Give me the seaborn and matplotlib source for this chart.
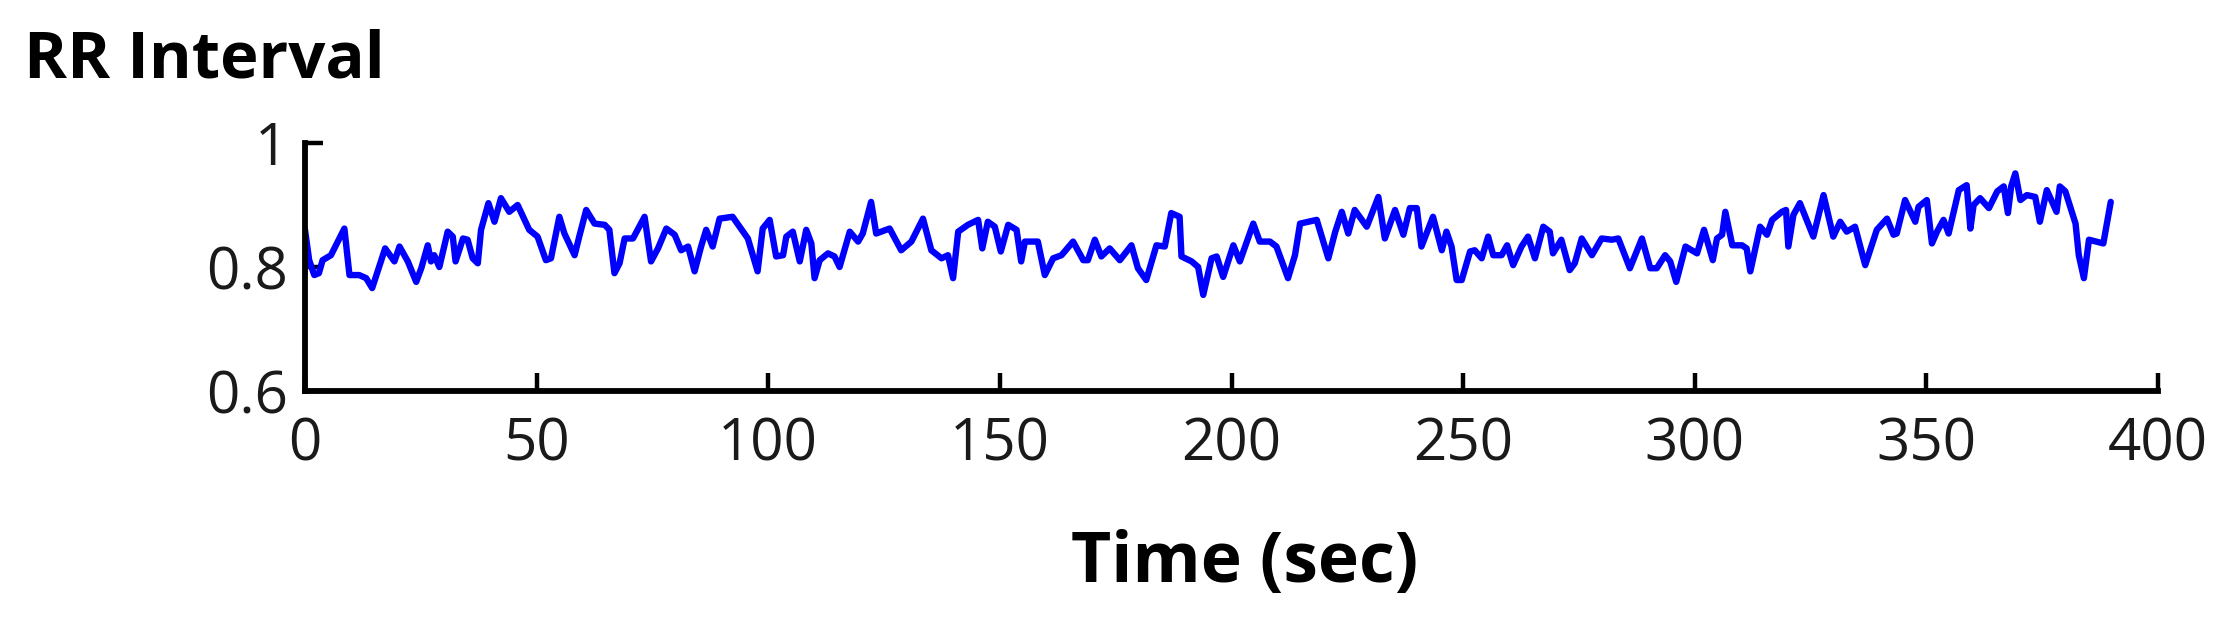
import numpy as np
import pandas as pd
import matplotlib
matplotlib.use("Agg")
import matplotlib.pyplot as plt
import seaborn as sns

# RR interval series (time in sec, interval in sec)
time_sec = [
    0, 0.9, 2.0, 3.0, 3.8, 5.6, 8.5, 9.6, 11.7, 13.2, 14.5, 17.3, 19.3, 20.4, 22.2,
    24.0, 25.1, 26.5, 27.2, 27.9, 29.0, 30.8, 31.9, 32.5, 34.1, 35.1, 36.2, 37.3,
    38.0, 39.6, 40.9, 42.3, 44.1, 45.9, 48.4, 50.2, 52.0, 53.1, 54.9,
    56.0, 58.2, 59.2, 60.7, 62.5, 64.7, 65.7, 66.8, 67.9, 69.0, 70.8, 73.3, 74.7,
    76.2, 78.0, 79.8, 81.2, 82.7, 84.1, 85.5, 86.6, 88.0, 89.5, 92.3, 95.6, 97.7,
    98.8, 100.3, 101.7, 103.2, 103.9, 105.3, 106.8, 108.2, 109.3, 110.0, 111.1,
    112.9, 114.3, 115.4, 117.6, 119.4, 120.4, 122.2, 123.3, 126.2, 128.7, 130.9,
    133.4, 135.2, 137.4, 138.8, 139.9, 141.0, 143.1, 145.3, 146.2, 147.4, 148.9,
    150.2, 151.8, 153.6, 154.6, 155.4, 158.2, 159.7, 161.5, 163.3, 165.8, 168.0,
    169.0, 170.5, 171.9, 173.7, 175.9, 178.4, 179.8, 181.6, 183.8, 185.6, 187.0,
    188.8, 189.2, 191.4, 192.8, 193.9, 195.7, 196.8, 198.2, 200.4, 201.8, 204.7,
    206.1, 208.3, 209.7, 212.2, 213.7, 214.8, 218.4, 220.9, 222.4, 223.8,
    225.2, 226.6, 229.2, 231.7, 233.1, 235.3, 237.1, 238.5, 240.0, 241.0, 243.5,
    245.4, 246.4, 247.5, 248.6, 249.7, 251.5, 252.5, 254.0, 255.4, 256.5, 258.3,
    259.5, 260.8, 262.6, 264.0, 265.5, 267.3, 268.7, 269.4, 271.2, 273.0, 274.1,
    275.6, 277.8, 279.9,
    282.1, 283.5, 286.0, 288.6, 290.4, 291.8, 293.6, 294.7, 296.0, 298.0, 300.5,
    302.0, 303.9, 304.8, 305.9, 306.6, 308.1, 310.2, 311.2, 312.0, 314.1, 315.6,
    316.7, 318.8, 319.7, 320.2, 321.3, 322.7, 325.6, 327.8, 329.9, 331.4, 332.8,
    334.6,
    336.8, 339.3, 341.5, 342.9, 343.6, 345.4, 347.6, 348.3, 350.1, 351.2, 352.3,
    353.7, 354.8, 357.0, 358.7, 359.5, 360.2, 361.6, 363.5, 365.3, 366.7, 367.6,
    368.3, 369.2, 370.3, 371.7, 373.5, 374.5, 376.0, 378.1, 378.8, 380.0, 382.2,
    382.9, 384.0, 385.1, 388.2, 389.8,
]
rr_interval = [
    0.860, 0.811, 0.787, 0.790, 0.811, 0.819, 0.862, 0.787, 0.787, 0.782, 0.766,
    0.830, 0.809, 0.833, 0.809, 0.776, 0.798, 0.835, 0.809, 0.819, 0.800, 0.857,
    0.849, 0.809, 0.846, 0.844, 0.814, 0.806, 0.860, 0.903, 0.873, 0.911, 0.889,
    0.900, 0.860, 0.849, 0.811, 0.814, 0.881,
    0.854, 0.819, 0.849, 0.892, 0.870, 0.868, 0.860, 0.790, 0.806, 0.846, 0.846,
    0.881, 0.809, 0.830, 0.862, 0.852, 0.827, 0.833, 0.793, 0.833, 0.860, 0.833,
    0.878, 0.881, 0.846, 0.793, 0.862, 0.876, 0.817, 0.819, 0.849, 0.857, 0.809,
    0.860, 0.838, 0.782, 0.811,
    0.822, 0.817, 0.800, 0.857, 0.841, 0.854, 0.905, 0.854, 0.862, 0.827, 0.841,
    0.878, 0.827, 0.814, 0.819, 0.782, 0.857, 0.868, 0.876, 0.830, 0.873, 0.865,
    0.825, 0.868, 0.860, 0.809, 0.841, 0.841, 0.787, 0.814, 0.819, 0.841, 0.811,
    0.811, 0.844, 0.817, 0.830, 0.811, 0.835, 0.798, 0.779, 0.835, 0.833, 0.887,
    0.881, 0.817, 0.809, 0.800, 0.755, 0.814, 0.817, 0.784, 0.835, 0.809, 0.870,
    0.841, 0.841, 0.833, 0.782, 0.819, 0.870, 0.876, 0.814, 0.857, 0.889,
    0.854, 0.892, 0.865, 0.913, 0.846, 0.892, 0.852, 0.895, 0.895, 0.833, 0.881,
    0.827, 0.857, 0.833, 0.779, 0.779, 0.825, 0.827, 0.814, 0.849, 0.819, 0.819,
    0.835, 0.803, 0.833, 0.849, 0.814, 0.865, 0.857, 0.822, 0.844, 0.795, 0.806,
    0.846, 0.819, 0.846,
    0.844, 0.846, 0.798, 0.846, 0.798, 0.798, 0.819, 0.809, 0.776, 0.833, 0.822,
    0.860, 0.811, 0.846, 0.852, 0.889, 0.835, 0.835, 0.830, 0.793, 0.865, 0.852,
    0.876, 0.889, 0.892, 0.833, 0.884, 0.903, 0.849, 0.916, 0.849, 0.873, 0.857,
    0.865,
    0.803, 0.860, 0.878, 0.852, 0.854, 0.908, 0.873, 0.897, 0.908, 0.838, 0.857,
    0.876, 0.854, 0.924, 0.932, 0.862, 0.900, 0.911, 0.895, 0.922, 0.930, 0.887,
    0.930, 0.951, 0.908, 0.916, 0.913, 0.873, 0.924, 0.889, 0.930, 0.922, 0.870,
    0.819, 0.782, 0.844, 0.838, 0.905,
]
x_ticks = [0, 50, 100, 150, 200, 250, 300, 350, 400]
y_ticks = [0.6, 0.8, 1.0]
y_tick_labels = ["0.6", "0.8", "1"]

df = pd.DataFrame({"time": time_sec, "rr": rr_interval})

sns.set_style("ticks")
plt.rcParams["font.family"] = ["Open Sans", "DejaVu Sans"]

W, H = 2223, 625
fig = plt.figure(figsize=(W / 100, H / 100), dpi=100)
ax = fig.add_axes([305 / W, 1 - 391 / H, (2158 - 305) / W, (391 - 143) / H])

sns.lineplot(data=df, x="time", y="rr", ax=ax, color="#0000ff", linewidth=4.6,
             estimator=None, sort=False)

ax.set_xlim(0, 400)
ax.set_ylim(0.6, 1.0)
ax.set_xticks(x_ticks)
ax.set_xticklabels([str(t) for t in x_ticks])
ax.set_yticks(y_ticks)
ax.set_yticklabels(y_tick_labels)
ax.set_xlabel("")
ax.set_ylabel("")

for side in ["top", "right"]:
    ax.spines[side].set_visible(False)
for side in ["left", "bottom"]:
    ax.spines[side].set_linewidth(4.2)
    ax.spines[side].set_color("black")
    ax.spines[side].set_capstyle("projecting")

ax.tick_params(axis="both", direction="in", length=13, width=3.2, color="black",
               labelsize=42, labelcolor="#1a1a1a")
ax.tick_params(axis="x", pad=18)
ax.tick_params(axis="y", pad=12)

fig.text(24 / W, 1 - 78 / H, "RR Interval", fontsize=47, fontweight="bold",
         ha="left", va="baseline", color="black")
fig.text(1245 / W, 1 - 582 / H, "Time (sec)", fontsize=50, fontweight="bold",
         ha="center", va="baseline", color="black")

fig.savefig("out.png", dpi=100, facecolor="white")
